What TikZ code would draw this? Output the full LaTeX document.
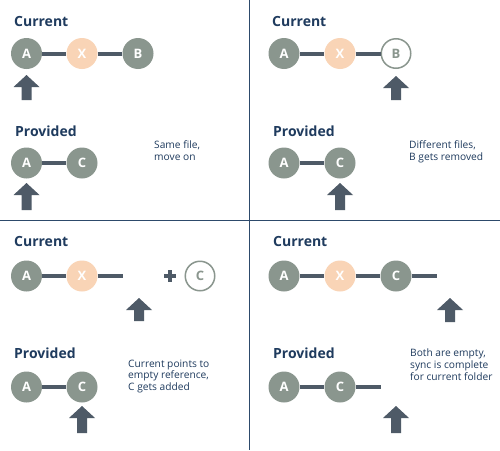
\documentclass[tikz,border=0pt]{standalone}
\usepackage{fontspec}
\setmainfont{Open Sans}
\definecolor{cgray}{HTML}{8A968E}
\definecolor{cpeach}{HTML}{F9D4B6}
\definecolor{cslate}{HTML}{4E5A67}
\definecolor{cnavy}{HTML}{1F3B5E}
\definecolor{cdiv}{HTML}{2D4A6B}
\tikzset{
  filenode/.style={circle, fill=cgray, minimum size=31pt, inner sep=0pt, text=white, font=\fontsize{13}{13}\selectfont\bfseries},
  newnode/.style={filenode, fill=cpeach},
  gonenode/.style={circle, fill=white, draw=cgray, line width=1.5pt, minimum size=29.5pt, inner sep=0pt, text=cgray, font=\fontsize{13}{13}\selectfont\bfseries},
  conn/.style={draw=cslate, line width=4pt},
  title/.style={anchor=base west, inner sep=0pt, text=cnavy, font=\fontsize{14}{14}\selectfont\bfseries},
  note/.style={anchor=base west, inner sep=0pt, text=cnavy, align=left, font=\fontsize{10.2}{11.6}\selectfont},
}
\newcommand{\ptrarrow}[3]{%
  \fill[cslate] (#1-5,#3) -- (#1-5,#2+12) -- (#1-13,#2+12) -- (#1,#2) -- (#1+13,#2+12) -- (#1+5,#2+12) -- (#1+5,#3) -- cycle;}
\begin{document}
\begin{tikzpicture}[x=1pt,y=-1pt]
\useasboundingbox (0,0) rectangle (500,450);
\fill[white] (0,0) rectangle (500,450);
% dividers
\draw[cdiv, line width=1.2pt] (249.5,0) -- (249.5,450);
\draw[cdiv, line width=1.2pt] (0,220.5) -- (500,220.5);

% ---------- Quadrant 1 ----------
\node[title] (t1c) at (14,26) {Current};
\node[filenode] (q1a) at (26.5,53.5) {A};
\node[newnode] (q1x) at (82,53.5) {X};
\node[filenode] (q1b) at (138,53.5) {B};
\draw[conn] (q1a) -- (q1x);
\draw[conn] (q1x) -- (q1b);
\ptrarrow{26.5}{75}{100}
\node[title] (t1p) at (15,136.5) {Provided};
\node[filenode] (q1pa) at (26.5,163) {A};
\node[filenode] (q1pc) at (82,163) {C};
\draw[conn] (q1pa) -- (q1pc);
\ptrarrow{26.5}{183}{210}
\node[note] (n1) at (154,160) {Same file,\\move on};

% ---------- Quadrant 2 ----------
\node[title] (t2c) at (272,26) {Current};
\node[filenode] (q2a) at (284,53.5) {A};
\node[newnode] (q2x) at (340,53.5) {X};
\node[gonenode] (q2b) at (396,53.5) {B};
\draw[conn] (q2a) -- (q2x);
\draw[conn] (q2x) -- (q2b);
\ptrarrow{396}{76}{100}
\node[title] (t2p) at (273,136.5) {Provided};
\node[filenode] (q2pa) at (284,163) {A};
\node[filenode] (q2pc) at (340,163) {C};
\draw[conn] (q2pa) -- (q2pc);
\ptrarrow{340}{183}{210}
\node[note] (n2) at (409,160) {Different files,\\B gets removed};

% ---------- Quadrant 3 ----------
\node[title] (t3c) at (14,246.5) {Current};
\node[filenode] (q3a) at (26.5,276) {A};
\node[newnode] (q3x) at (82,276) {X};
\coordinate (q3end) at (123,276);
\draw[conn] (q3a) -- (q3x);
\draw[conn] (q3x) -- (q3end);
\fill[cslate] (164,274) rectangle (176,278);
\fill[cslate] (168,270) rectangle (172,282);
\node[gonenode] (q3c) at (200,276) {C};
\ptrarrow{139}{298}{321}
\node[title] (t3p) at (14,358.5) {Provided};
\node[filenode] (q3pa) at (26.5,387) {A};
\node[filenode] (q3pc) at (82,387) {C};
\draw[conn] (q3pa) -- (q3pc);
\ptrarrow{82}{406}{433}
\node[note] (n3) at (128,390.5) {Current points to\\empty reference,\\C gets added};

% ---------- Quadrant 4 ----------
\node[title] (t4c) at (273,246.5) {Current};
\node[filenode] (q4a) at (284,276) {A};
\node[newnode] (q4x) at (340,276) {X};
\node[filenode] (q4c) at (396,276) {C};
\coordinate (q4end) at (437,276);
\draw[conn] (q4a) -- (q4x);
\draw[conn] (q4x) -- (q4c);
\draw[conn] (q4c) -- (q4end);
\ptrarrow{450}{298}{322}
\node[title] (t4p) at (273,358.5) {Provided};
\node[filenode] (q4pa) at (284,387) {A};
\node[filenode] (q4pc) at (340,387) {C};
\coordinate (q4pend) at (381,387);
\draw[conn] (q4pa) -- (q4pc);
\draw[conn] (q4pc) -- (q4pend);
\ptrarrow{396}{406}{433}
\node[note] (n4) at (410,380) {Both are empty,\\sync is complete\\for current folder};
\end{tikzpicture}
\end{document}
